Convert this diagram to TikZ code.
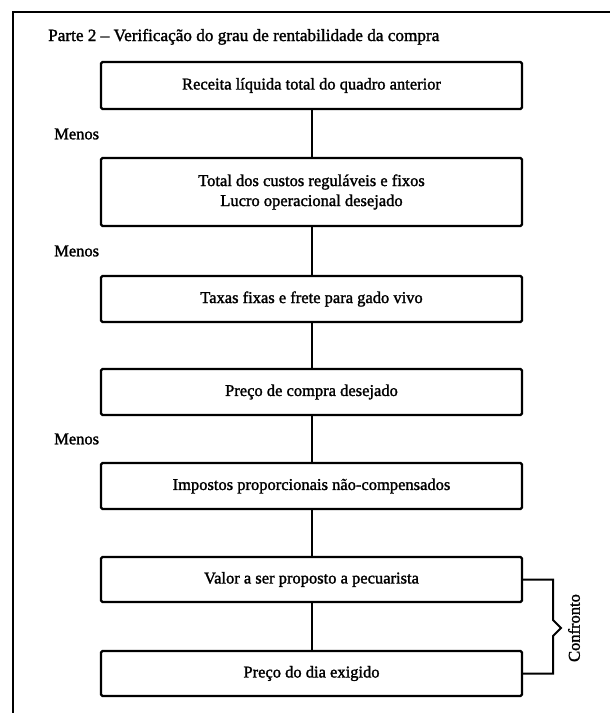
\documentclass[tikz,border=0pt]{standalone}
\usepackage{fontspec}
\setmainfont{Liberation Serif}[FakeBold=1.6]
\newcommand{\tf}{\fontsize{16.5}{20}\selectfont}
\newcommand{\ttlf}{\fontsize{17.2}{20}\selectfont}
\begin{document}
\begin{tikzpicture}[x=1pt,y=-1pt,
  box/.style={draw, line width=2.2pt, rounded corners=1.5pt, minimum width=421pt,
    inner sep=0pt, align=center, font=\tf},
  conn/.style={line width=2pt},
  lbl/.style={anchor=west, font=\tf, inner sep=0pt}]
\useasboundingbox (0,0) rectangle (610,713);
\draw[line width=1.8pt] (610,12) coordinate (frTR) -- (13,12) coordinate (frTL) -- (13,713) coordinate (frBL);
\node[anchor=base west, font=\ttlf, inner sep=0pt] (title) at (48,41) {Parte 2 -- Verificação do grau de rentabilidade da compra};
\node[box, minimum height=47pt] (b1) at (311.5,85.5) {Receita líquida total do quadro anterior};
\node[box, minimum height=68pt] (b2) at (311.5,192) {Total dos custos reguláveis e fixos\\Lucro operacional desejado};
\node[box, minimum height=46pt] (b3) at (311.5,299) {Taxas fixas e frete para gado vivo};
\node[box, minimum height=46pt] (b4) at (311.5,392) {Preço de compra desejado};
\node[box, minimum height=46pt] (b5) at (311.5,486) {Impostos proporcionais não-compensados};
\node[box, minimum height=45pt] (b6) at (311.5,579.5) {Valor a ser proposto a pecuarista};
\node[box, minimum height=45pt] (b7) at (311.5,673.5) {Preço do dia exigido};
\node[lbl] (m1) at (54,134) {Menos};
\node[lbl] (m2) at (54,251) {Menos};
\node[lbl] (m3) at (54,439) {Menos};
\draw[conn] (b1) -- (b2);
\draw[conn] (b2) -- (b3);
\draw[conn] (b3) -- (b4);
\draw[conn] (b4) -- (b5);
\draw[conn] (b5) -- (b6);
\draw[conn] (b6) -- (b7);
\coordinate (brTop) at (553,579.5);
\coordinate (brBot) at (553,673.5);
\coordinate (brTip) at (561,628);
\draw[conn] (b6.east) -- (brTop) -- (553,620) -- (brTip) -- (553,636) -- (brBot) -- (b7.east);
\node[rotate=90, font=\tf, inner sep=0pt] (conf) at (574,628) {Confronto};
\end{tikzpicture}
\end{document}
